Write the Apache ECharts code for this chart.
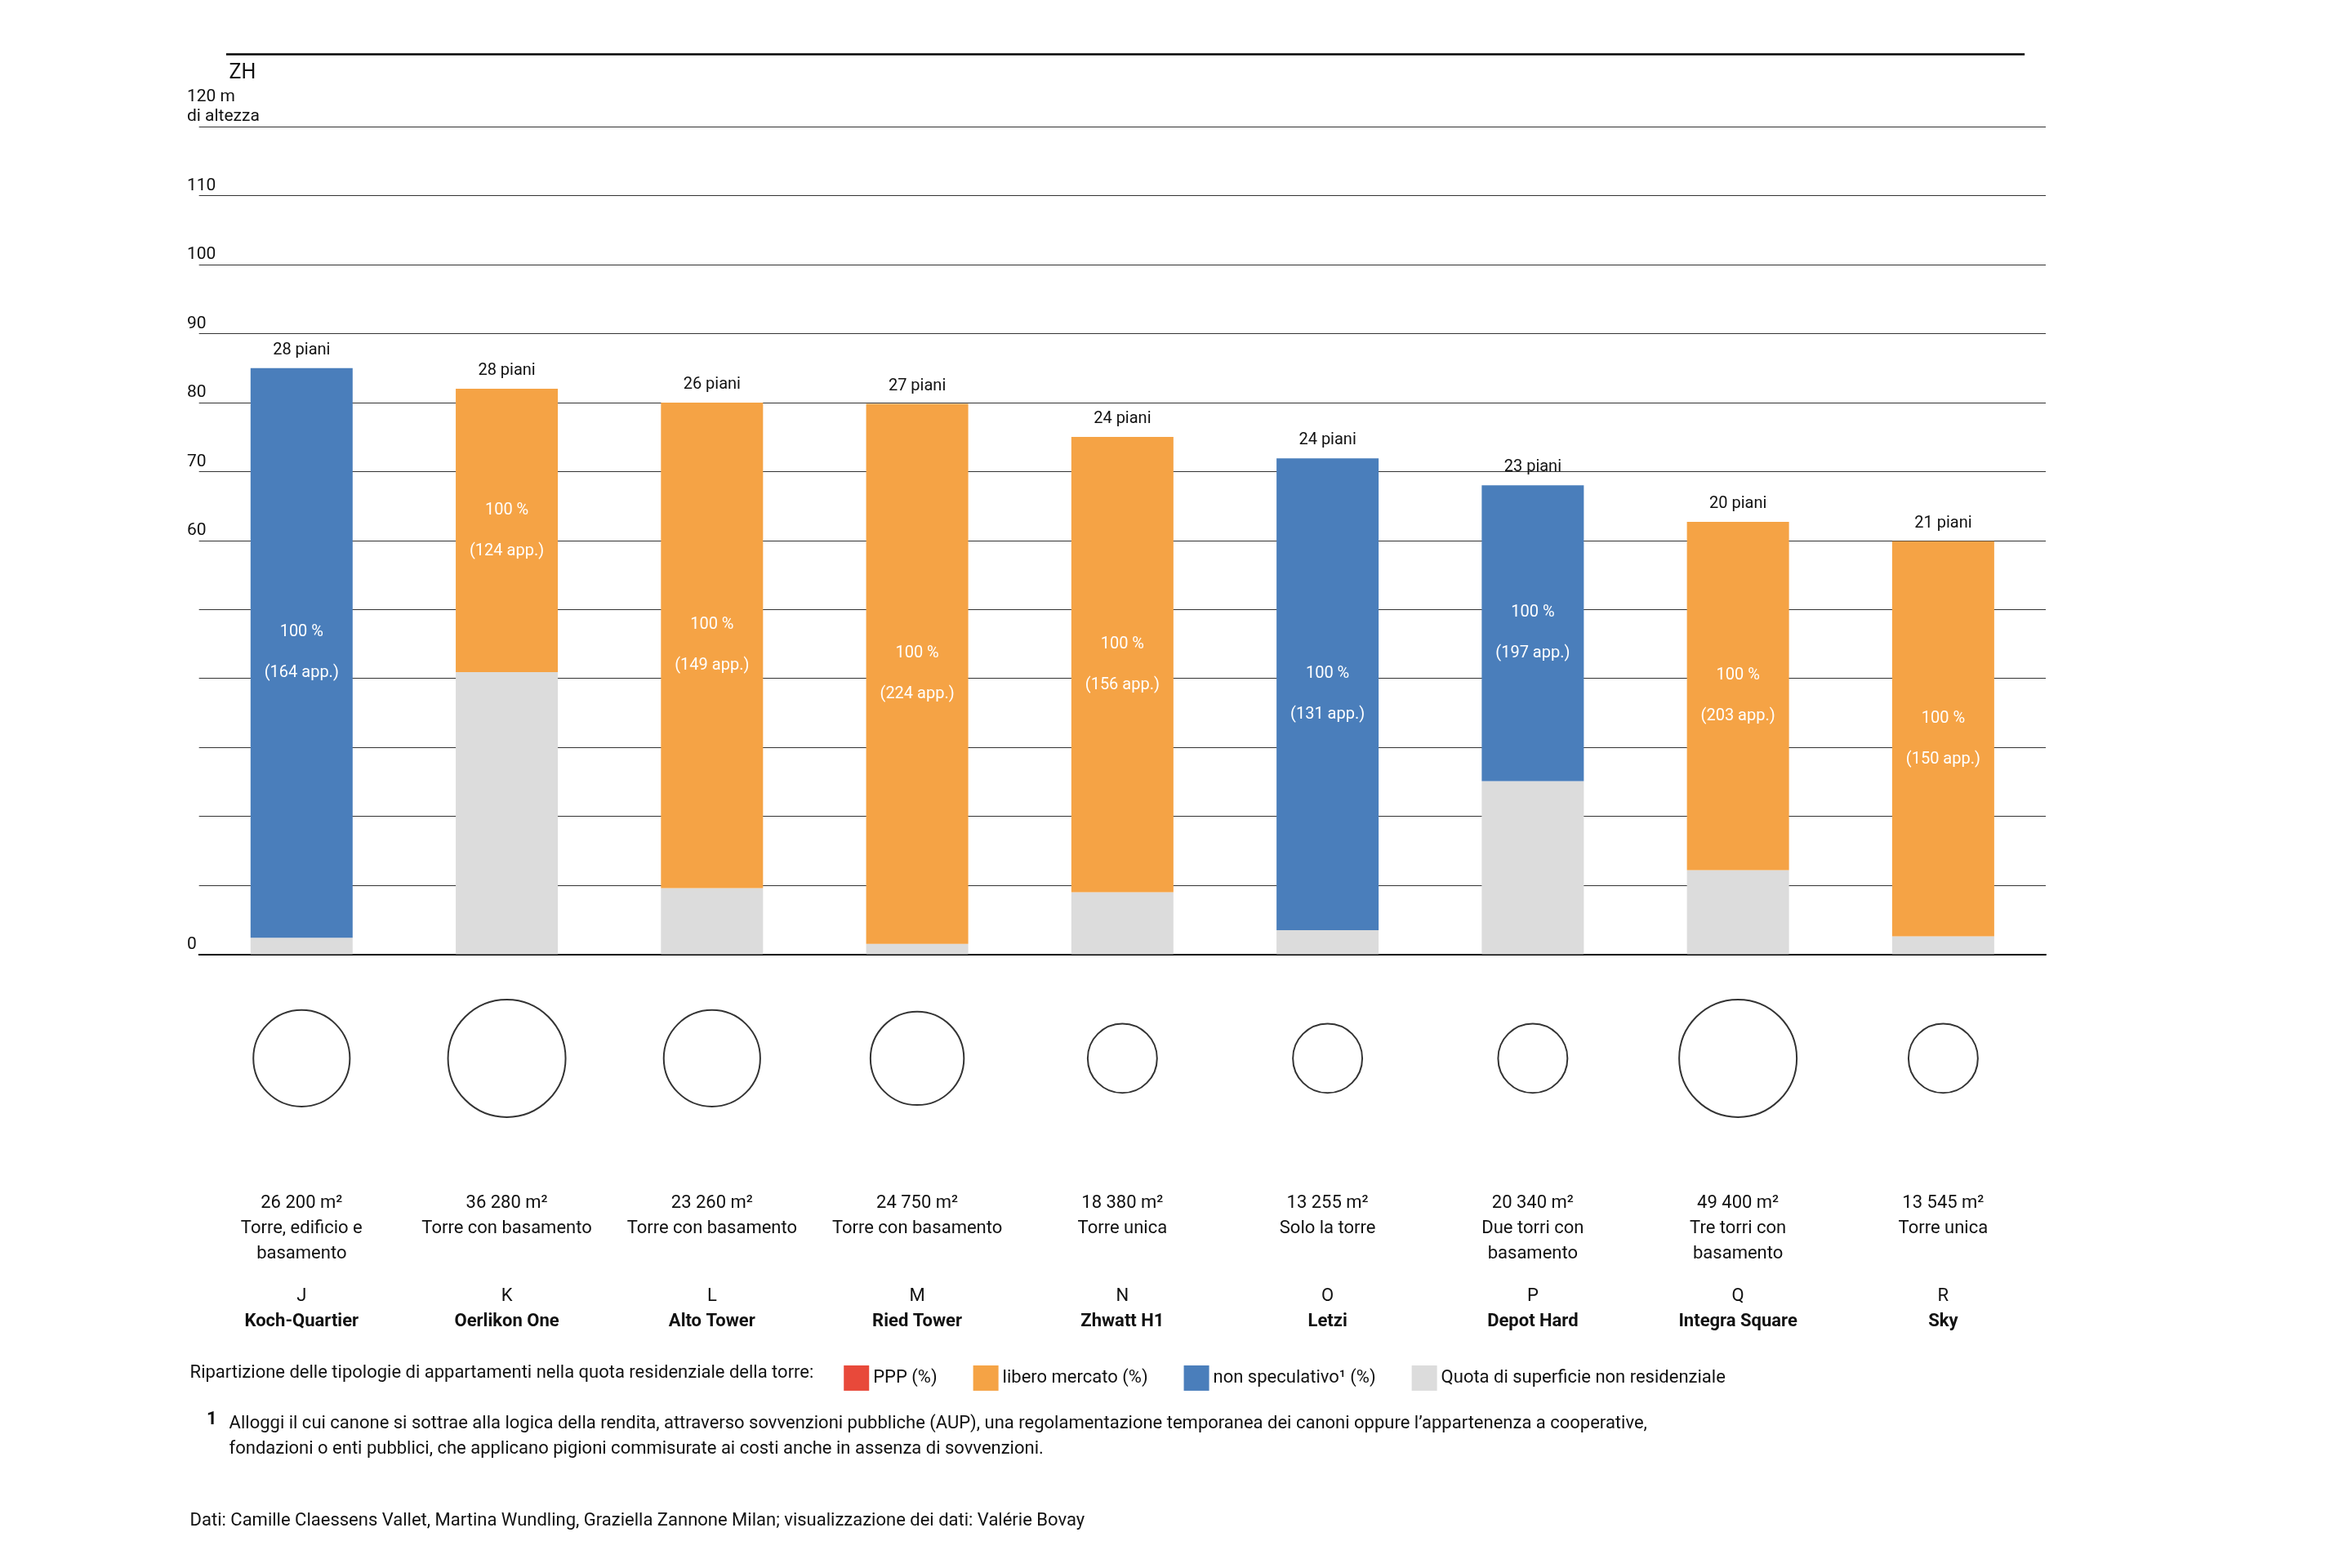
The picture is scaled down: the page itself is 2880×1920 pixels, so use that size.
<!DOCTYPE html>
<html><head><meta charset="utf-8">
<script src="https://cdn.jsdelivr.net/npm/echarts@6/dist/echarts.min.js"></script>
<style>html,body{margin:0;padding:0;background:#fff}#c{width:2880px;height:1920px}</style>
</head><body><div id="c"></div>
<script>
const letters=['J','K','L','M','N','O','P','Q','R'];
const names=['Koch-Quartier','Oerlikon One','Alto Tower','Ried Tower','Zhwatt H1','Letzi','Depot Hard','Integra Square','Sky'];
const heights=[85,82,80,79.8,75,71.9,68,62.7,59.9];
const nonRes=[2.4,40.9,9.6,1.5,9,3.5,25.1,12.2,2.6];
const kind=['blue','orange','orange','orange','orange','blue','blue','orange','orange'];
const floors=[28,28,26,27,24,24,23,20,21];
const apps=[164,124,149,224,156,131,197,203,150];
const areas=['26 200','36 280','23 260','24 750','18 380','13 255','20 340','49 400','13 545'];
const areaTypes=[['Torre, edificio e','basamento'],['Torre con basamento'],['Torre con basamento'],['Torre con basamento'],['Torre unica'],['Solo la torre'],['Due torri con','basamento'],['Tre torri con','basamento'],['Torre unica']];
const circleDiam=[64,78,64,62,46,46,46,78,46];
const S=1.846;
const FONT='Roboto';
const blue='#4a7ebb',orange='#f5a345',grey='#dcdcdc',red='#e8493a';
const orangeVals=heights.map((h,i)=>kind[i]==='orange'?+(h-nonRes[i]).toFixed(2):0);
const blueVals=heights.map((h,i)=>kind[i]==='blue'?+(h-nonRes[i]).toFixed(2):0);
const inner=(p)=>p.value>0?'100 %\n\n('+apps[p.dataIndex]+' app.)':'';
const gl=132*S, gw=1225*S;
const chart=echarts.init(document.getElementById('c'));
chart.setOption({
 animation:false,
 textStyle:{fontFamily:FONT},
 grid:[{left:gl,width:gw,top:84*S,height:549*S},{left:gl,width:gw,top:652*S,height:100*S}],
 xAxis:[{type:'category',data:letters,gridIndex:0,axisLine:{lineStyle:{color:'#000',width:2}},axisTick:{show:false},axisLabel:{show:false}},
  {type:'category',data:letters,gridIndex:1,axisLine:{show:false},axisTick:{show:false},
   axisLabel:{margin:70,interval:0,color:'#111',fontSize:22,
    formatter:(v,i)=>{const t=areaTypes[i];return '{a|'+areas[i]+' m²}\n{a|'+t[0]+'}\n{a|'+(t[1]||' ')+'}\n{s| }\n{a|'+letters[i]+'}\n{b|'+names[i]+'}';},
    rich:{a:{fontSize:22,lineHeight:31,color:'#111',fontFamily:FONT},b:{fontSize:22,lineHeight:31,fontWeight:'bold',color:'#111',fontFamily:FONT},s:{fontSize:10,lineHeight:21}}}}],
 yAxis:[{type:'value',gridIndex:0,min:0,max:120,interval:10,axisLine:{show:false},axisTick:{show:false},
   splitLine:{lineStyle:{color:'#333',width:1.2}},
   axisLabel:{align:'left',verticalAlign:'bottom',margin:gl-124*S,color:'#111',fontSize:21,lineHeight:24,
    formatter:v=>v===120?'120 m\ndi altezza':(v===0||v>=60?String(v):'')}},
  {type:'value',gridIndex:1,min:-1,max:1,show:false}],
 legend:{left:557*S,top:903*S,itemWidth:31,itemHeight:31,itemGap:44,icon:'rect',textStyle:{fontSize:22,color:'#111',fontFamily:FONT},
  data:['PPP (%)','libero mercato (%)','non speculativo¹ (%)','Quota di superficie non residenziale']},
 series:[
  {name:'PPP (%)',type:'bar',data:[],itemStyle:{color:red}},
  {name:'Quota di superficie non residenziale',type:'bar',stack:'t',barWidth:125,data:nonRes,itemStyle:{color:grey}},
  {name:'libero mercato (%)',type:'bar',stack:'t',data:orangeVals,itemStyle:{color:orange},
   label:{show:true,position:'inside',formatter:inner,color:'#fff',fontSize:20,lineHeight:25}},
  {name:'non speculativo¹ (%)',type:'bar',stack:'t',data:blueVals,itemStyle:{color:blue},
   label:{show:true,position:'inside',formatter:inner,color:'#fff',fontSize:20,lineHeight:25}},
  {name:'cap',type:'bar',stack:'t',data:heights.map(()=>0),itemStyle:{color:'transparent'},
   label:{show:true,position:'top',distance:12,formatter:p=>floors[p.dataIndex]+' piani',color:'#111',fontSize:20}},
  {name:'area',type:'scatter',xAxisIndex:1,yAxisIndex:1,data:letters.map(()=>0),symbolSize:(v,p)=>circleDiam[p.dataIndex]*S,
   itemStyle:{color:'#fff',borderColor:'#000',borderWidth:2},silent:true}
 ],
 graphic:[
  {type:'line',shape:{x1:150*S,y1:36*S,x2:1343*S,y2:36*S},style:{stroke:'#000',lineWidth:2.5}},
  {type:'text',left:152*S,top:42*S,style:{text:'ZH',fontSize:25,fill:'#111',fontFamily:FONT}},
  {type:'text',left:126*S,top:905*S,style:{text:'Ripartizione delle tipologie di appartamenti nella quota residenziale della torre:',fontSize:22,fill:'#111',fontFamily:FONT}},
  {type:'text',left:137*S,top:936*S,style:{text:'1',fontSize:22,fontWeight:'bold',fill:'#111',fontFamily:FONT}},
  {type:'text',left:152*S,top:936*S,style:{text:'Alloggi il cui canone si sottrae alla logica della rendita, attraverso sovvenzioni pubbliche (AUP), una regolamentazione temporanea dei canoni oppure l’appartenenza a cooperative,\nfondazioni o enti pubblici, che applicano pigioni commisurate ai costi anche in assenza di sovvenzioni.',fontSize:22,lineHeight:31,fill:'#111',fontFamily:FONT}},
  {type:'text',left:126*S,top:1003*S,style:{text:'Dati: Camille Claessens Vallet, Martina Wundling, Graziella Zannone Milan; visualizzazione dei dati: Valérie Bovay',fontSize:22,fill:'#111',fontFamily:FONT}}
 ]
});
</script></body></html>
